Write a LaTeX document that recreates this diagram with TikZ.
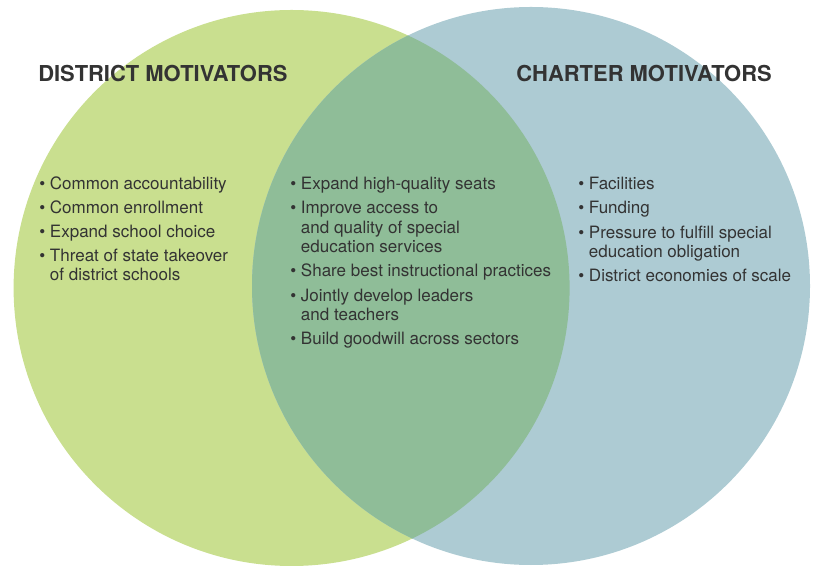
\documentclass[tikz,border=0pt]{standalone}
\usepackage{xcolor}
\usepackage{fontspec}
\setmainfont{TeX Gyre Heros}
\usepackage{tikz}
\usetikzlibrary{positioning}
\definecolor{districtgreen}{RGB}{201, 223, 143}
\definecolor{charterblue}{RGB}{173, 203, 211}
\definecolor{sharedgreen}{RGB}{143, 189, 152}
\definecolor{ink}{RGB}{51, 51, 51}
\tikzstyle{heading} = [anchor=base west, inner sep=0, text=ink, font=\fontsize{15.6}{18}\selectfont\bfseries]
\tikzstyle{motive} = [anchor=base west, inner sep=0, align=left, text=ink, font=\fontsize{12.1}{13.9}\selectfont]

\begin{document}
\begin{tikzpicture}
    \useasboundingbox (0, 0) rectangle (20.325, 14.175);

    % Circles
    \fill[districtgreen] (7.29, 6.975) circle (6.95);
    \fill[charterblue] (13.275, 7.025) circle (6.975);
    \begin{scope}
        \clip (7.29, 6.975) circle (6.95);
        \fill[sharedgreen] (13.275, 7.025) circle (6.975);
    \end{scope}

    % Headings
    \node[heading] (district) at (0.95, 12.125) {DISTRICT MOTIVATORS};
    \node[heading] (charter) at (12.9, 12.125) {CHARTER MOTIVATORS};

    % District motivators (base = last line)
    \node[motive] (d1) at (0.975, 9.425) {\textbullet\ Common accountability};
    \node[motive] (d2) at (0.975, 8.825) {\textbullet\ Common enrollment};
    \node[motive] (d3) at (0.975, 8.225) {\textbullet\ Expand school choice};
    \node[motive] (d4) at (0.975, 7.150) {\textbullet\ Threat of state takeover\\\phantom{\textbullet\ }of district schools};

    % Shared motivators
    \node[motive] (s1) at (7.25, 9.425) {\textbullet\ Expand high-quality seats};
    \node[motive] (s2) at (7.25, 7.850) {\textbullet\ Improve access to\\\phantom{\textbullet\ }and quality of special\\\phantom{\textbullet\ }education services};
    \node[motive] (s3) at (7.25, 7.250) {\textbullet\ Share best instructional practices};
    \node[motive] (s4) at (7.25, 6.150) {\textbullet\ Jointly develop leaders\\\phantom{\textbullet\ }and teachers};
    \node[motive] (s5) at (7.25, 5.550) {\textbullet\ Build goodwill across sectors};

    % Charter motivators
    \node[motive] (c1) at (14.45, 9.425) {\textbullet\ Facilities};
    \node[motive] (c2) at (14.45, 8.825) {\textbullet\ Funding};
    \node[motive] (c3) at (14.45, 7.725) {\textbullet\ Pressure to fulfill special\\\phantom{\textbullet\ }education obligation};
    \node[motive] (c4) at (14.45, 7.125) {\textbullet\ District economies of scale};
\end{tikzpicture}
\end{document}
